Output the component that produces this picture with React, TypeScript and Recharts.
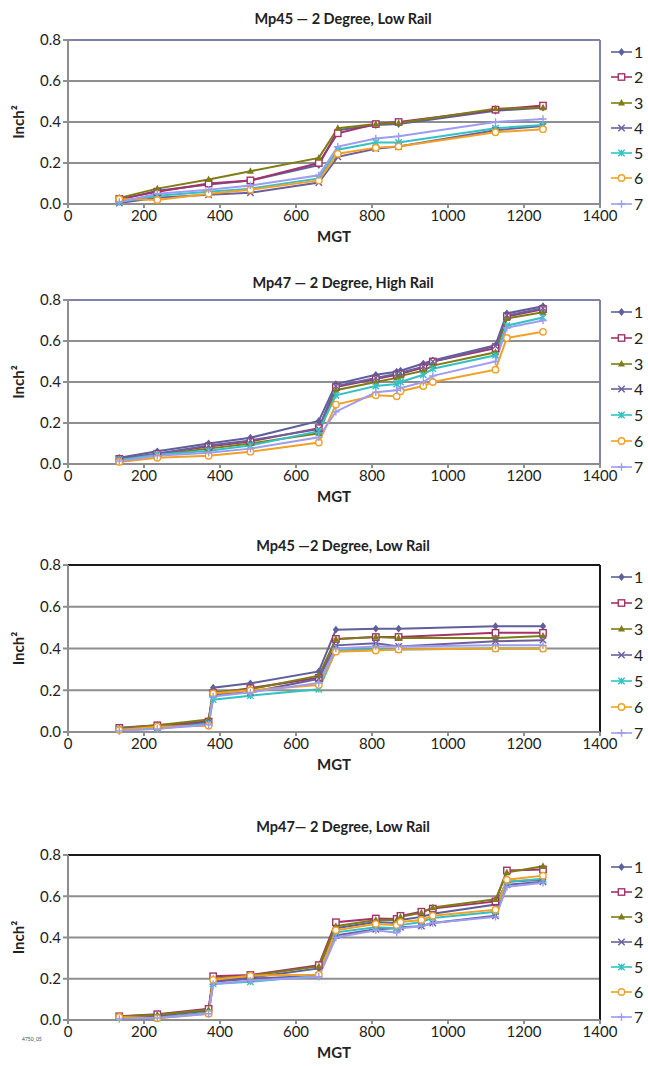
import { LineChart, Line, XAxis, YAxis, CartesianGrid, Legend, ReferenceLine } from 'recharts';

const FONT = 'Lato, "Open Sans", sans-serif';

// series 1..7
const seriesNames = ['1', '2', '3', '4', '5', '6', '7'];
const seriesColors = ['#5f5f9c', '#a3336a', '#7d7d14', '#6c5f9e', '#33c2c4', '#f2a026', '#9d9cf0'];

const xTicks = [0, 200, 400, 600, 800, 1000, 1200, 1400];
const yTicks = [0, 0.2, 0.4, 0.6, 0.8];

// Mp45 - 2 Degree, Low Rail (top)
const mgt1 = [135, 235, 370, 480, 660, 710, 810, 870, 1125, 1250];
const inch1 = [
  [0.02, 0.065, 0.095, 0.115, 0.19, 0.36, 0.385, 0.39, 0.455, 0.47],
  [0.025, 0.06, 0.1, 0.115, 0.2, 0.345, 0.39, 0.4, 0.46, 0.48],
  [0.03, 0.075, 0.12, 0.16, 0.225, 0.37, 0.39, 0.395, 0.465, 0.47],
  [0.005, 0.03, 0.045, 0.055, 0.105, 0.23, 0.27, 0.28, 0.36, 0.38],
  [0.01, 0.04, 0.06, 0.075, 0.125, 0.265, 0.3, 0.3, 0.37, 0.385],
  [0.025, 0.02, 0.05, 0.07, 0.115, 0.245, 0.275, 0.28, 0.35, 0.365],
  [0.01, 0.05, 0.07, 0.09, 0.14, 0.28, 0.32, 0.33, 0.4, 0.415],
];

// Mp47 - 2 Degree, High Rail
const mgt2 = [135, 235, 370, 480, 660, 705, 810, 865, 875, 935, 960, 1125, 1155, 1250];
const inch2 = [
  [0.03, 0.062, 0.1, 0.128, 0.21, 0.39, 0.435, 0.45, 0.455, 0.49, 0.505, 0.58, 0.735, 0.77],
  [0.025, 0.05, 0.085, 0.11, 0.175, 0.375, 0.415, 0.435, 0.44, 0.47, 0.5, 0.565, 0.72, 0.755],
  [0.025, 0.045, 0.075, 0.1, 0.15, 0.36, 0.4, 0.42, 0.43, 0.455, 0.48, 0.545, 0.71, 0.74],
  [0.025, 0.05, 0.09, 0.115, 0.17, 0.38, 0.42, 0.44, 0.445, 0.475, 0.5, 0.575, 0.725, 0.76],
  [0.02, 0.045, 0.065, 0.09, 0.16, 0.335, 0.38, 0.39, 0.4, 0.435, 0.465, 0.53, 0.675, 0.715],
  [0.01, 0.03, 0.04, 0.06, 0.105, 0.29, 0.335, 0.33, 0.355, 0.38, 0.4, 0.46, 0.615, 0.645],
  [0.015, 0.04, 0.055, 0.075, 0.13, 0.255, 0.35, 0.36, 0.37, 0.4, 0.43, 0.5, 0.665, 0.7],
];

// Mp45 - 2 Degree, Low Rail (second)
const mgt3 = [135, 235, 370, 382, 480, 660, 705, 810, 870, 1125, 1250];
const inch3 = [
  [0.015, 0.025, 0.05, 0.212, 0.233, 0.29, 0.49, 0.495, 0.495, 0.507, 0.507],
  [0.02, 0.032, 0.05, 0.186, 0.21, 0.26, 0.446, 0.455, 0.455, 0.475, 0.475],
  [0.018, 0.032, 0.06, 0.19, 0.205, 0.27, 0.445, 0.455, 0.45, 0.45, 0.46],
  [0.015, 0.02, 0.045, 0.18, 0.19, 0.255, 0.415, 0.425, 0.41, 0.435, 0.44],
  [0.012, 0.015, 0.04, 0.155, 0.174, 0.205, 0.39, 0.395, 0.395, 0.4, 0.4],
  [0.01, 0.025, 0.03, 0.185, 0.2, 0.225, 0.385, 0.39, 0.395, 0.4, 0.4],
  [0.005, 0.015, 0.035, 0.17, 0.19, 0.235, 0.4, 0.41, 0.41, 0.415, 0.415],
];

// Mp47 - 2 Degree, Low Rail
const mgt4 = [135, 235, 370, 382, 480, 660, 705, 810, 865, 875, 930, 960, 1125, 1155, 1250];
const inch4 = [
  [0.015, 0.02, 0.045, 0.19, 0.205, 0.25, 0.445, 0.475, 0.47, 0.485, 0.5, 0.515, 0.56, 0.67, 0.68],
  [0.018, 0.028, 0.054, 0.212, 0.218, 0.266, 0.474, 0.492, 0.49, 0.505, 0.525, 0.54, 0.575, 0.725, 0.73],
  [0.017, 0.025, 0.05, 0.2, 0.215, 0.26, 0.455, 0.485, 0.485, 0.5, 0.52, 0.545, 0.585, 0.715, 0.745],
  [0.012, 0.012, 0.035, 0.185, 0.2, 0.215, 0.41, 0.44, 0.445, 0.45, 0.455, 0.47, 0.505, 0.655, 0.67],
  [0.012, 0.01, 0.035, 0.175, 0.185, 0.215, 0.425, 0.45, 0.445, 0.46, 0.475, 0.495, 0.525, 0.67, 0.685],
  [0.015, 0.008, 0.03, 0.195, 0.215, 0.22, 0.435, 0.465, 0.46, 0.475, 0.485, 0.505, 0.535, 0.68, 0.7],
  [0.005, 0.01, 0.03, 0.175, 0.19, 0.21, 0.4, 0.435, 0.423, 0.445, 0.455, 0.47, 0.5, 0.645, 0.665],
];

function Marker({ cx, cy, kind, color }: { cx: number; cy: number; kind: number; color: string }) {
  const r = 3.2;
  if (cx == null || cy == null) return null;
  switch (kind) {
    case 0:
      return <polygon points={`${cx},${cy - r - 0.7} ${cx + r},${cy} ${cx},${cy + r + 0.7} ${cx - r},${cy}`} fill={color} />;
    case 1:
      return <rect x={cx - r} y={cy - r} width={2 * r} height={2 * r} fill="#fff" stroke={color} strokeWidth={1.4} />;
    case 2:
      return <polygon points={`${cx},${cy - r - 0.8} ${cx + r + 0.3},${cy + r - 0.6} ${cx - r - 0.3},${cy + r - 0.6}`} fill={color} />;
    case 3:
      return <path d={`M${cx - r},${cy - r}L${cx + r},${cy + r}M${cx - r},${cy + r}L${cx + r},${cy - r}`} stroke={color} strokeWidth={1.4} fill="none" />;
    case 4:
      return <path d={`M${cx - r},${cy - r}L${cx + r},${cy + r}M${cx - r},${cy + r}L${cx + r},${cy - r}M${cx},${cy - r}L${cx},${cy + r}`} stroke={color} strokeWidth={1.4} fill="none" />;
    case 5:
      return <circle cx={cx} cy={cy} r={r} fill="#fff" stroke={color} strokeWidth={1.4} />;
    default:
      return <path d={`M${cx - r - 0.5},${cy}L${cx + r + 0.5},${cy}M${cx},${cy - r - 0.5}L${cx},${cy + r + 0.5}`} stroke={color} strokeWidth={1.4} fill="none" />;
  }
}

type PanelProps = {
  title: string;
  titleY: number;
  plotTop: number;
  plotH: number;
  mgt: number[];
  inch: number[][];
  border: string;
  legendRow: number;
};

function Panel({ title, titleY, plotTop, plotH, mgt, inch, border, legendRow }: PanelProps) {
  const rows = mgt.map((x, i) => {
    const row: Record<string, number> = { x };
    inch.forEach((s, k) => { row['s' + (k + 1)] = s[i]; });
    return row;
  });
  const mTop = 10;
  const axisH = 42;

  const legendContent = () => (
    <div style={{ width: 48 }}>
      {seriesNames.map((n, k) => (
        <div key={n} style={{ height: legendRow, display: 'flex', alignItems: 'center' }}>
          <svg width={34} height={12} style={{ display: 'block' }}>
            <line x1={11} x2={32} y1={6} y2={6} stroke={seriesColors[k]} strokeWidth={1.6} />
            <Marker cx={21.5} cy={6} kind={k} color={seriesColors[k]} />
          </svg>
          <span style={{ fontFamily: FONT, fontSize: 16, color: '#222', lineHeight: '12px' }}>{n}</span>
        </div>
      ))}
    </div>
  );

  return (
    <>
      <div style={{ position: 'absolute', top: titleY - 9, left: 343, transform: 'translateX(-50%)', whiteSpace: 'nowrap', fontFamily: FONT, fontWeight: 700, fontSize: 14.5, color: '#222', lineHeight: '18px' }}>
        {title}
      </div>
      <div style={{ position: 'absolute', top: plotTop - mTop, left: 0 }}>
        <LineChart width={648} height={mTop + plotH + axisH} data={rows} margin={{ top: mTop, right: 0, left: 0, bottom: 0 }}>
          <CartesianGrid vertical={false} stroke="#8e8e8e" strokeWidth={2} />
          <XAxis
            dataKey="x"
            type="number"
            domain={[0, 1400]}
            ticks={xTicks}
            height={axisH}
            stroke="#8e8e8e"
            strokeWidth={2}
            tickSize={4}
            tickMargin={2}
            tick={{ fill: '#222', fontSize: 15, fontFamily: FONT }}
            label={{
              content: ({ viewBox }: any) => (
                <text x={viewBox.x + viewBox.width / 2} y={viewBox.y + 38} textAnchor="middle" fontFamily={FONT} fontWeight={700} fontSize={15} fill="#222">MGT</text>
              ),
            }}
          />
          <YAxis
            type="number"
            domain={[0, 0.8]}
            ticks={yTicks}
            width={68}
            stroke="#8e8e8e"
            strokeWidth={2}
            tickSize={5}
            tickMargin={2}
            tickFormatter={(v: number) => v.toFixed(1)}
            tick={{ fill: '#222', fontSize: 15, fontFamily: FONT }}
            label={{
              content: ({ viewBox }: any) => {
                const cy = viewBox.y + viewBox.height / 2;
                return (
                  <text x={18} y={cy} transform={`rotate(-90 18 ${cy})`} textAnchor="middle" dominantBaseline="central" fontFamily={FONT} fontWeight={700} fontSize={15} fill="#222">Inch²</text>
                );
              },
            }}
          />
          <ReferenceLine y={0.8} stroke={border} strokeWidth={2} />
          <ReferenceLine x={1400} stroke={border} strokeWidth={2} />
          <Legend
            layout="vertical"
            align="right"
            verticalAlign="top"
            content={legendContent}
            wrapperStyle={{ top: mTop + 12 - legendRow / 2, right: 0, width: 48 }}
          />
          {seriesNames.map((n, k) => (
            <Line
              key={n}
              dataKey={'s' + (k + 1)}
              name={n}
              stroke={seriesColors[k]}
              strokeWidth={2}
              isAnimationActive={false}
              dot={(p: any) => <Marker key={`${n}-${p.index}`} cx={p.cx} cy={p.cy} kind={k} color={seriesColors[k]} />}
              activeDot={false}
            />
          ))}
        </LineChart>
      </div>
    </>
  );
}

export default function App() {
  return (
    <div style={{ position: 'absolute', left: 0, top: 0, width: 648, height: 1066, background: '#fff', overflow: 'hidden' }}>
      <Panel title="Mp45 — 2 Degree, Low Rail" titleY={19} plotTop={40} plotH={164} mgt={mgt1} inch={inch1} border="#8181ad" legendRow={25.3} />
      <Panel title="Mp47 — 2 Degree, High Rail" titleY={283} plotTop={300} plotH={164} mgt={mgt2} inch={inch2} border="#8181ad" legendRow={25.8} />
      <Panel title="Mp45 —2 Degree, Low Rail" titleY={546} plotTop={565} plotH={167} mgt={mgt3} inch={inch3} border="#1a1a1a" legendRow={26} />
      <Panel title="Mp47— 2 Degree, Low Rail" titleY={827} plotTop={855} plotH={165} mgt={mgt4} inch={inch4} border="#1a1a1a" legendRow={25} />
      <div style={{ position: 'absolute', left: 22, top: 1036, fontFamily: FONT, fontSize: 5, color: '#444' }}>4750_05</div>
    </div>
  );
}
